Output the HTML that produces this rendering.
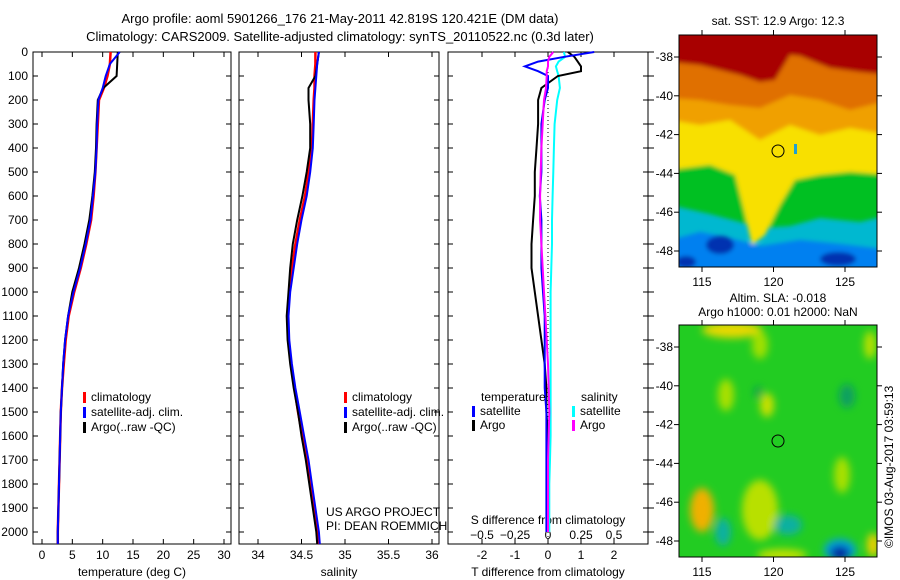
<!DOCTYPE html>
<html><head><meta charset="utf-8"><style>
body{margin:0;background:#fff;}
svg{display:block;font-family:"Liberation Sans",sans-serif;}
text{font-size:12px;fill:#000;}
</style></head><body>
<svg id="s" width="900" height="580" xmlns="http://www.w3.org/2000/svg">
<defs>
<filter id="bl" x="-10%" y="-10%" width="120%" height="120%"><feGaussianBlur stdDeviation="4"/></filter>
<filter id="bl2" x="-10%" y="-10%" width="120%" height="120%"><feGaussianBlur stdDeviation="2"/></filter>
<clipPath id="c1"><rect x="679" y="35" width="198" height="232"/></clipPath>
<clipPath id="c2"><rect x="679" y="325" width="198" height="232"/></clipPath>
</defs>
<text x="340" y="23" text-anchor="middle" style="font-size:13px">Argo profile: aoml 5901266_176 21-May-2011 42.819S 120.421E (DM data)</text>
<text x="340" y="41" text-anchor="middle" style="font-size:13px">Climatology: CARS2009. Satellite-adjusted climatology: synTS_20110522.nc (0.3d later)</text>

<g clip-path="url(#c1)">
<rect x="679" y="35" width="198" height="232" fill="#00b8d0"/>
<g filter="url(#bl2)">
<path d="M670,30 H890 V215 L860,222 L820,218 L790,226 L760,228 L740,222 L710,214 L670,205Z" fill="#00c020"/>
<path d="M670,30 H890 V175 L850,172 L820,175 L795,180 L780,205 L765,235 L752,245 L745,215 L735,175 L710,165 L670,170Z" fill="#f8e000"/>
<path d="M670,30 H890 V135 L850,128 L820,135 L790,125 L760,140 L730,120 L700,125 L670,120Z" fill="#f0a000"/>
<path d="M670,30 H890 V100 L850,110 L820,100 L790,95 L760,108 L730,105 L700,100 L670,98Z" fill="#e07000"/>
<path d="M670,30 H890 V75 L860,72 L830,68 L800,56 L790,55 L775,80 L760,82 L740,75 L700,65 L670,62Z" fill="#a80000"/>
<path d="M670,240 L700,232 L730,238 L760,246 L800,240 L840,244 L890,250 V280 H670Z" fill="#0080f0"/>
<ellipse cx="720" cy="245" rx="14" ry="9" fill="#0030b0"/>
<ellipse cx="838" cy="259" rx="18" ry="7" fill="#0030b0"/>
<ellipse cx="686" cy="262" rx="10" ry="6" fill="#0030b0"/>
</g>
</g>
<rect x="679" y="35" width="198" height="232" fill="none" stroke="#000"/>
<circle cx="778" cy="151" r="6" fill="none" stroke="#000"/>
<rect x="794" y="144" width="3" height="10" fill="#20a0d0"/>
<text x="778" y="25" text-anchor="middle">sat. SST: 12.9 Argo: 12.3</text>

<g clip-path="url(#c2)">
<rect x="679" y="325" width="198" height="232" fill="#22cc22"/>
<g filter="url(#bl)">
<ellipse cx="732" cy="330" rx="30" ry="8" fill="#e8d800"/>
<ellipse cx="702" cy="510" rx="12" ry="22" fill="#f0b000"/>
<ellipse cx="760" cy="510" rx="18" ry="30" fill="#b8e000"/>
<ellipse cx="767" cy="405" rx="7" ry="12" fill="#c8e000"/>
<ellipse cx="726" cy="395" rx="8" ry="16" fill="#a8e000"/>
<ellipse cx="842" cy="475" rx="8" ry="18" fill="#a8e000"/>
<ellipse cx="870" cy="345" rx="6" ry="14" fill="#b8e000"/>
<ellipse cx="760" cy="345" rx="8" ry="14" fill="#a0e000"/>
<ellipse cx="758" cy="392" rx="4" ry="6" fill="#10a050"/>
<ellipse cx="788" cy="525" rx="14" ry="10" fill="#10b0a0"/>
<ellipse cx="723" cy="532" rx="8" ry="14" fill="#10b0a0"/>
<ellipse cx="847" cy="396" rx="8" ry="12" fill="#10a060"/>
<ellipse cx="782" cy="555" rx="25" ry="6" fill="#c0e000"/>
<ellipse cx="873" cy="545" rx="6" ry="12" fill="#f0d000"/>
<ellipse cx="840" cy="550" rx="16" ry="11" fill="#00a0e0"/>
<ellipse cx="840" cy="553" rx="10" ry="7" fill="#0020a0"/>
</g>
</g>
<rect x="679" y="325" width="198" height="232" fill="none" stroke="#000"/>
<circle cx="778" cy="441" r="6" fill="none" stroke="#000"/>
<text x="778" y="302" text-anchor="middle">Altim. SLA: -0.018</text>
<text x="778" y="316" text-anchor="middle">Argo h1000: 0.01 h2000: NaN</text>
<text transform="translate(893,548) rotate(-90)" style="font-size:12px">©IMOS 03-Aug-2017 03:59:13</text>
<g id="plots"></g>
</svg>
<script>
const depths = [0,50,100,150,200,300,400,500,600,700,800,900,1000,1100,1200,1300,1400,1500,1600,1700,1800,1900,2000,2050];
const tempClim = [11.3,11.2,10.8,10.2,9.4,9.2,9.0,8.8,8.5,8.1,7.3,6.4,5.3,4.4,3.9,3.6,3.3,3.1,3.0,2.9,2.8,2.7,2.6,2.6];
const tempSat  = [12.8,11.2,10.5,10.0,9.3,9.1,9.0,8.8,8.4,8.0,7.2,6.3,5.2,4.3,3.8,3.5,3.3,3.1,3.0,2.9,2.8,2.7,2.6,2.6];
const tempArgo = [12.5,12.4,12.3,10.1,9.2,9.0,8.9,8.7,8.3,7.8,7.0,6.1,5.0,4.3,3.8,3.5,3.3,3.1,3.0,2.9,2.8,2.7,2.6,2.6];
const salClim = [34.66,34.66,34.65,34.65,34.64,34.63,34.62,34.58,34.54,34.48,34.43,34.39,34.36,34.34,34.35,34.38,34.42,34.46,34.51,34.56,34.60,34.64,34.68,34.69];
const salSat  = [34.70,34.68,34.67,34.66,34.65,34.64,34.63,34.60,34.56,34.50,34.45,34.41,34.37,34.35,34.36,34.39,34.43,34.48,34.53,34.58,34.62,34.66,34.70,34.71];
const salArgo = [34.70,34.68,34.66,34.58,34.58,34.60,34.60,34.56,34.51,34.45,34.40,34.37,34.35,34.33,34.34,34.37,34.41,34.46,34.50,34.55,34.59,34.63,34.67,34.68];
const dDepths = [0,20,40,60,80,100,150,200,300,400,500,600,700,800,900,1000,1100,1200,1300,1400,1500,1600,1700,1800,1900,2000];
const dTSat  = [1.4,0.5,-0.3,-0.7,-0.3,0,0,-0.1,-0.2,-0.2,-0.2,-0.25,-0.2,-0.2,-0.2,-0.15,-0.1,-0.1,-0.1,-0.1,-0.05,-0.05,-0.05,-0.05,-0.05,-0.05];
const dTArgo = [0.6,0.8,0.9,1.0,1.0,0.3,-0.2,-0.3,-0.3,-0.35,-0.4,-0.4,-0.45,-0.5,-0.5,-0.4,-0.3,-0.2,-0.1,-0.05,-0.05,0,0,0,0,0];
const dSSat  = [0.12,0.13,0.08,0.06,0.07,0.08,0.09,0.07,0.05,0.045,0.04,0.035,0.03,0.03,0.025,0.02,0.02,0.02,0.02,0.02,0.02,0.02,0.015,0.01,0.01,0.01];
const dSArgo = [0.04,0.01,0.0,0.0,-0.01,-0.01,-0.015,-0.03,-0.04,-0.05,-0.055,-0.06,-0.06,-0.05,-0.04,-0.03,-0.02,-0.01,0,0.005,0.01,0.005,0,0,0,0];
const depthTicks = [0,100,200,300,400,500,600,700,800,900,1000,1100,1200,1300,1400,1500,1600,1700,1800,1900,2000];
const tempTicks = [0,5,10,15,20,25,30];
const salTicks = [34,34.5,35,35.5,36];
const tdTicks = [-2,-1,0,1,2];
const sdTicks = [-0.5,-0.25,0,0.25,0.5];
const lonTicks = [115,120,125];
const latTicks = [-38,-40,-42,-44,-46,-48];

const NS="http://www.w3.org/2000/svg";
const plots=document.getElementById('plots');
function mk(tag,at,parent){const e=document.createElementNS(NS,tag);for(const k in at)e.setAttribute(k,at[k]);(parent||plots).appendChild(e);return e;}
const yTop=52,yBot=544;
const yD=d=>yTop+(d/2050)*(yBot-yTop);
function lin(d0,d1,p0,p1){return v=>p0+(v-d0)/(d1-d0)*(p1-p0);}
const xT=lin(0,30,42,224);
const xS=lin(34,36,258,432);
const xTD=lin(0,2,548,614);
const xSD=v=>xTD(v*4);

function panel(x0,x1,name){
  const r=mk('rect',{x:x0,y:yTop,width:x1-x0,height:yBot-yTop,fill:'none',stroke:'#000'});
  
  
}
function line(xs,ds,xf,color,name,w){
  let d='';
  xs.forEach((v,i)=>{d+=(i?'L':'M')+xf(v).toFixed(1)+','+yD(ds[i]).toFixed(1);});
  const p=mk('path',{d:d,fill:'none',stroke:color,'stroke-width':w||2});
  
  
}
function txt(x,y,s,anchor,name){
  const t=mk('text',{x:x,y:y,'text-anchor':anchor||'start'});t.textContent=s;
  
  
  return t;
}
panel(33,231,'temperature-panel');panel(239,439,'salinity-panel');panel(448,648,'difference-panel');
depthTicks.forEach(d=>{
  const y=yD(d);
  txt(28,y+4,String(d),'end','depth-tick-label');
  [[33,231],[239,439],[448,648]].forEach(([a,b])=>{
    mk('line',{x1:a,x2:a+5,y1:y,y2:y,stroke:'#000'});
    mk('line',{x1:b,x2:b-5,y1:y,y2:y,stroke:'#000'});
  });
  mk('line',{x1:648,x2:654,y1:y,y2:y,stroke:'#000'});
});
tempTicks.forEach(v=>{const x=xT(v);mk('line',{x1:x,x2:x,y1:yBot,y2:yBot-5,stroke:'#000'});mk('line',{x1:x,x2:x,y1:yTop,y2:yTop+5,stroke:'#000'});txt(x,559,String(v),'middle','temp-tick-label');});
salTicks.forEach(v=>{const x=xS(v);mk('line',{x1:x,x2:x,y1:yBot,y2:yBot-5,stroke:'#000'});mk('line',{x1:x,x2:x,y1:yTop,y2:yTop+5,stroke:'#000'});txt(x,559,String(v),'middle','salinity-tick-label');});
tdTicks.forEach(v=>{const x=xTD(v);mk('line',{x1:x,x2:x,y1:yBot,y2:yBot-5,stroke:'#000'});mk('line',{x1:x,x2:x,y1:yTop,y2:yTop+5,stroke:'#000'});txt(x,559,String(v),'middle','tdiff-tick-label');});
sdTicks.forEach(v=>{const x=xSD(v);txt(x,539,(v<0?'\u2212':'')+Math.abs(v),'middle','sdiff-tick-label');});
txt(132,576,'temperature (deg C)','middle','temp-axis-title');
txt(339,576,'salinity','middle','salinity-axis-title');
txt(548,576,'T difference from climatology','middle','tdiff-axis-title');
txt(548,524,'S difference from climatology','middle','sdiff-axis-title');
const z=mk('line',{x1:xTD(0),x2:xTD(0),y1:yTop,y2:yBot,stroke:'#000','stroke-dasharray':'1,3'});


line(tempClim,depths,xT,'#ff0000','temp-climatology-line',2.5);
line(tempArgo,depths,xT,'#000','temp-argo-line');
line(tempSat,depths,xT,'#0000ff','temp-satellite-line');
line(salClim,depths,xS,'#ff0000','salinity-climatology-line',2.5);
line(salArgo,depths,xS,'#000','salinity-argo-line');
line(salSat,depths,xS,'#0000ff','salinity-satellite-line');
line(dSSat,dDepths,xSD,'#00ffff','sdiff-satellite-line');
line(dTArgo,dDepths,xTD,'#000','tdiff-argo-line');
line(dTSat,dDepths,xTD,'#0000ff','tdiff-satellite-line');
line(dSArgo,dDepths,xSD,'#ff00ff','sdiff-argo-line');
function leg(x,y,color,label,name){
  const r=mk('rect',{x:x,y:y-9,width:3,height:11,fill:color});
  
  
  txt(x+8,y,label,'start',name);
}
[[83,'temp'],[344,'sal']].forEach(([x,n])=>{
  leg(x,401,'#ff0000','climatology',n+'-legend-climatology');
  leg(x,416,'#0000ff','satellite-adj. clim.',n+'-legend-satellite');
  leg(x,431,'#000','Argo(..raw -QC)',n+'-legend-argo');
});
txt(481,401,'temperature','start','legend-temperature-header');
txt(581,401,'salinity','start','legend-salinity-header');
leg(472,415,'#0000ff','satellite','legend-tdiff-satellite');
leg(472,429,'#000','Argo','legend-tdiff-argo');
leg(572,415,'#00ffff','satellite','legend-sdiff-satellite');
leg(572,429,'#ff00ff','Argo','legend-sdiff-argo');
txt(326,516,'US ARGO PROJECT','start','credit-line-1');
txt(326,530,'PI: DEAN ROEMMICH','start','credit-line-2');
const xLon=lin(115,125,702,845);
function mapAxes(y0,y1,latf,tag){
  lonTicks.forEach(v=>{const x=xLon(v);
    mk('line',{x1:x,x2:x,y1:y1,y2:y1+5,stroke:'#000'});mk('line',{x1:x,x2:x,y1:y0,y2:y0-5,stroke:'#000'});
    txt(x,y1+19,String(v),'middle',tag+'-lon-label');});
  latTicks.forEach(v=>{const y=latf(v);
    mk('line',{x1:679,x2:674,y1:y,y2:y,stroke:'#000'});mk('line',{x1:877,x2:882,y1:y,y2:y,stroke:'#000'});
    txt(673,y+4,String(v),'end',tag+'-lat-label');});
}
mapAxes(35,267,lin(-38,-48,57,251),'sst');
mapAxes(325,557,lin(-38,-48,347,541),'sla');
</script>
</body></html>
